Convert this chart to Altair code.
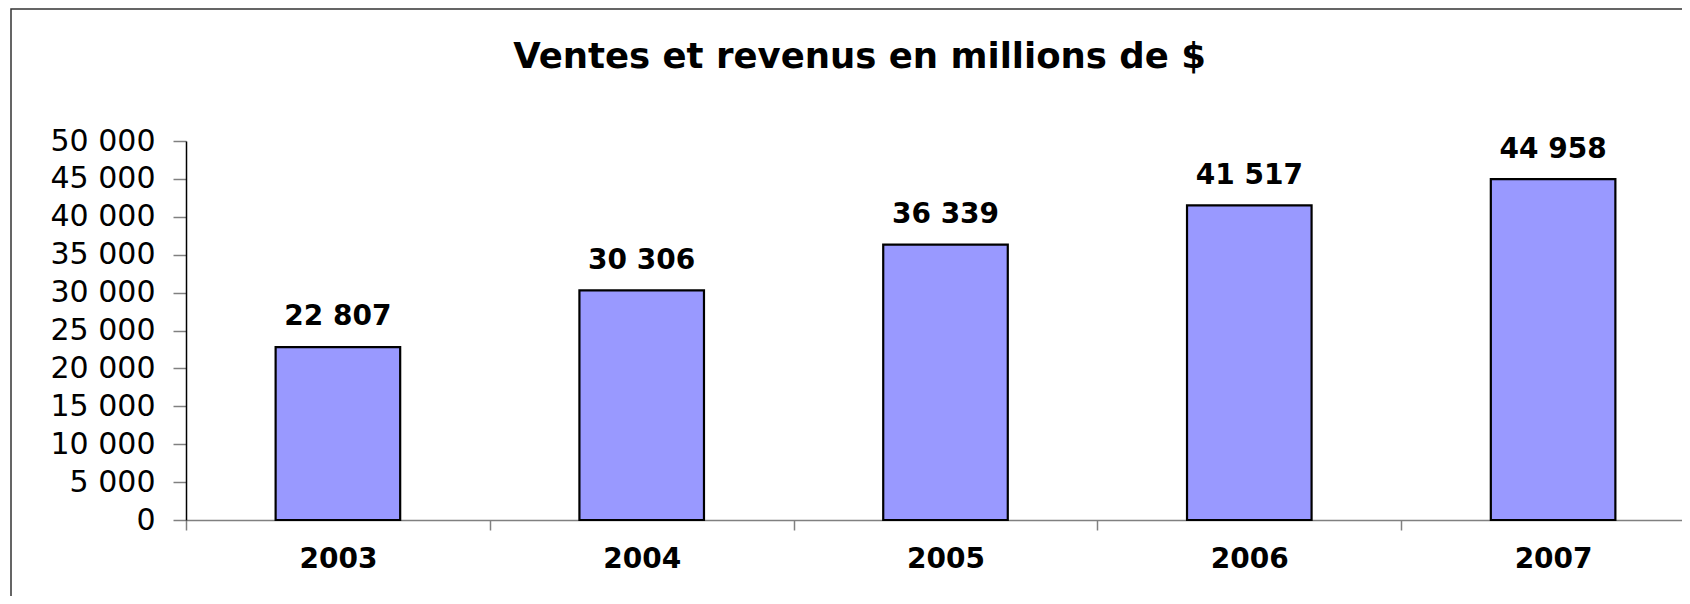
import altair as alt
import pandas as pd

years = ["2003", "2004", "2005", "2006", "2007"]
values = [22807, 30306, 36339, 41517, 44958]
y_ticks = [0, 5000, 10000, 15000, 20000, 25000, 30000, 35000, 40000, 45000, 50000]
title_text = "Ventes et revenus en millions de $"

df = pd.DataFrame({"annee": years, "valeur": values})

x_enc = alt.X(
    "annee:N",
    sort=years,
    scale=alt.Scale(paddingInner=0, paddingOuter=0),
    axis=alt.Axis(
        title=None,
        labelAngle=0,
        labelFont="DejaVu Sans",
        labelFontWeight="bold",
        labelFontSize=28,
        labelColor="black",
        labelPadding=37,
        labelBaseline="alphabetic",
        tickBand="extent",
        tickSize=10,
        tickColor="#808080",
        tickWidth=1.5,
        domainColor="#808080",
        domainWidth=1.5,
        grid=False,
    ),
)
y_enc = alt.Y(
    "valeur:Q",
    scale=alt.Scale(domain=[0, 50000], nice=False),
    axis=alt.Axis(
        title=None,
        values=y_ticks,
        labelExpr="replace(format(datum.value, ','), ',', ' ')",
        labelFont="DejaVu Sans",
        labelFontSize=30,
        labelColor="black",
        labelPadding=18,
        tickSize=13,
        tickColor="#808080",
        tickWidth=1.5,
        domainColor="black",
        domainWidth=1.5,
        grid=False,
    ),
)

base = alt.Chart(df)

bars = base.mark_bar(
    color="#9999FF", stroke="black", strokeWidth=2.2,
    width=alt.RelativeBandSize(0.41),
).encode(x=x_enc, y=y_enc)

labels = base.transform_calculate(
    lbl="replace(format(datum.valeur, ','), ',', ' ')"
).mark_text(
    dy=-21.7,
    baseline="alphabetic",
    font="DejaVu Sans",
    fontWeight="bold",
    fontSize=28,
    color="black",
).encode(x=x_enc, y=y_enc, text="lbl:N")

frame = alt.Chart(alt.Data(values=[{"a": 1}])).mark_rect(
    fill="transparent", stroke="#333333", strokeWidth=1.5
).encode(
    x=alt.value(-175), x2=alt.value(1650), y=alt.value(-132), y2=alt.value(600)
)

chart = alt.layer(frame, bars, labels).properties(
    width=1519,
    height=379,
    title=alt.TitleParams(
        text=title_text,
        font="DejaVu Sans",
        fontWeight="bold",
        fontSize=35.5,
        color="black",
        anchor="middle",
        frame="group",
        baseline="alphabetic",
        offset=-95,
        dx=-86,
    ),
    autosize=alt.AutoSizeParams(type="none"),
    padding={"left": 178, "top": 133, "right": -23, "bottom": 76},
).configure_view(stroke=None)

chart.save("out.html", embed_options={"renderer": "svg", "actions": False})
